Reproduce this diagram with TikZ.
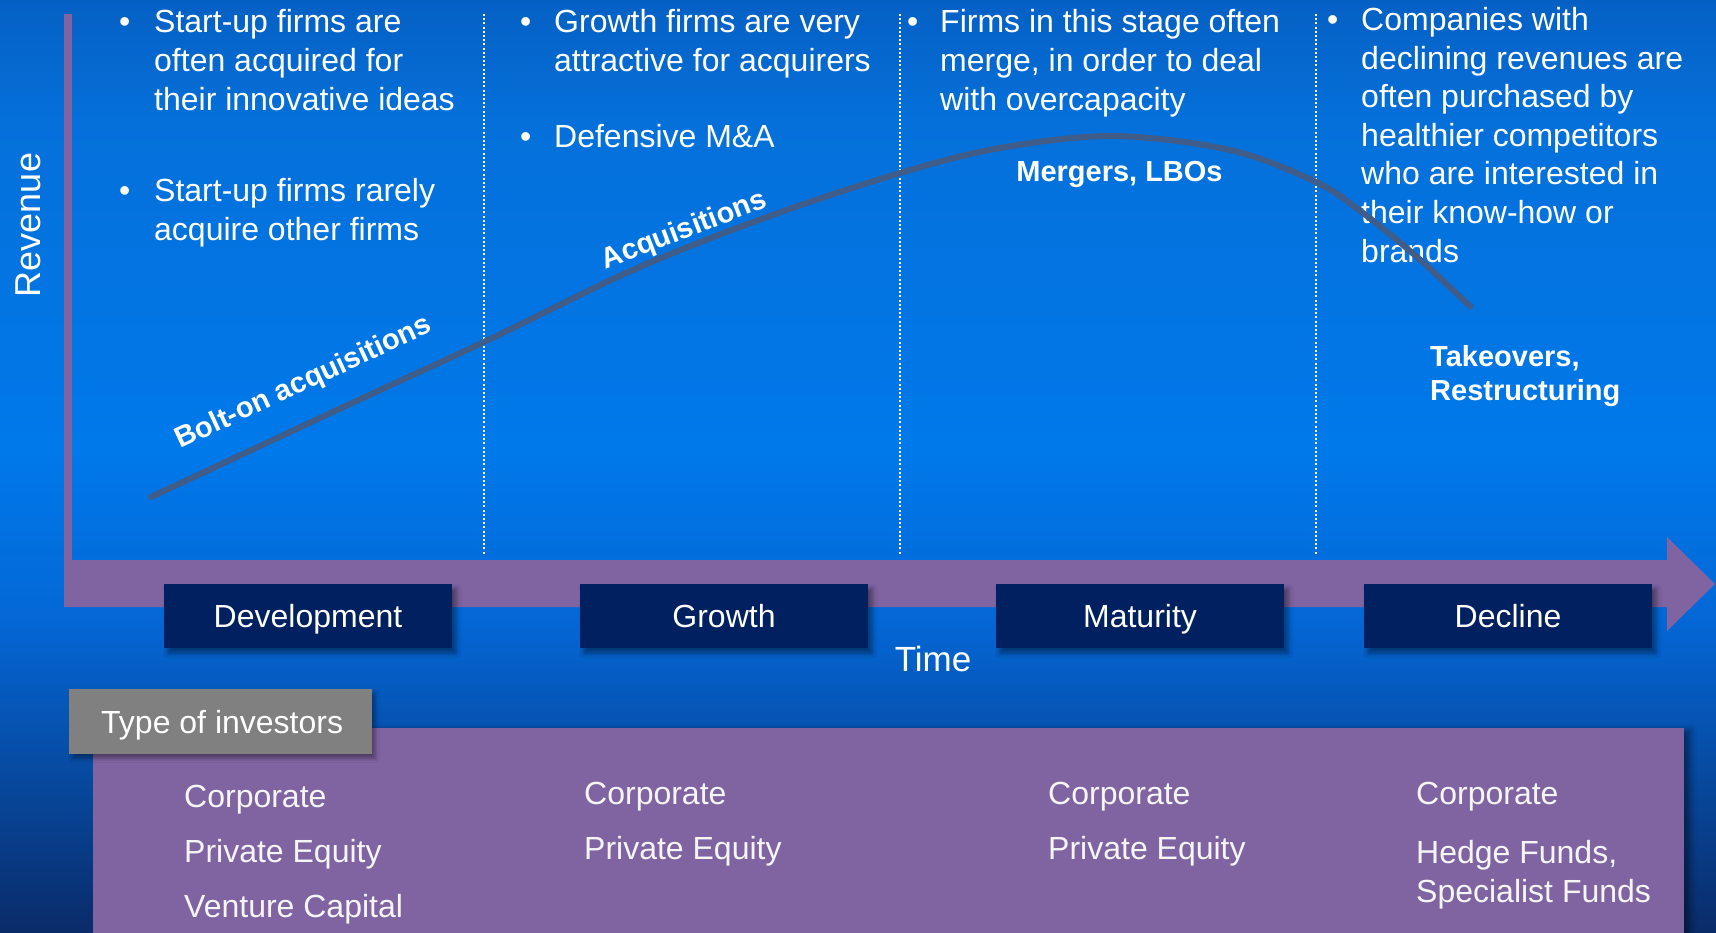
\documentclass[tikz,border=0pt]{standalone}
\usepackage{fontspec}
\setmainfont{Liberation Sans}
\usetikzlibrary{shadows.blur}

\definecolor{bgtop}{HTML}{0560C4}
\definecolor{bgupper}{HTML}{0570DA}
\definecolor{bgbright}{HTML}{0079EA}
\definecolor{bglow}{HTML}{0467D6}
\definecolor{bgbottom}{HTML}{0A2B68}
\definecolor{axispurple}{HTML}{8064A2}
\definecolor{stagenavy}{HTML}{002060}
\definecolor{curveblue}{HTML}{405C88}
\definecolor{titlegray}{HTML}{808080}

% a block of lines whose baseline is the baseline of its first line
\newcommand\para[2][38.6pt]{\vtop{\baselineskip=#1\lineskiplimit=-50pt #2}}

\begin{document}
\begin{tikzpicture}[x=1pt,y=-1pt,
  body/.style={font=\fontsize{32}{38.6}\selectfont, text=white, inner sep=0pt, anchor=base west},
  curvelbl/.style={font=\bfseries\fontsize{29}{34}\selectfont, text=white, inner sep=0pt, anchor=base},
  stagebox/.style={fill=stagenavy, minimum width=288pt, minimum height=64pt, inner sep=0pt,
    text=white, font=\fontsize{32}{38}\selectfont, text height=23pt, text depth=0pt,
    blur shadow={shadow xshift=4pt, shadow yshift=-5pt, shadow blur radius=5pt, shadow opacity=45}},
  divider/.style={white, line width=2.2pt, dash pattern=on 2pt off 2.2pt},
  invtxt/.style={font=\fontsize{32}{38}\selectfont, text=white!96!black, inner sep=0pt, anchor=base west},
]
\useasboundingbox (0,0) rectangle (1716,933);

% background gradient
\shade[top color=bgtop, bottom color=bgupper] (0,0) rectangle (1716,121);
\shade[top color=bgupper, bottom color=bgbright] (0,120) rectangle (1716,451);
\shade[top color=bgbright, bottom color=bglow] (0,450) rectangle (1716,621);
\shade[top color=bglow, bottom color=bgbottom] (0,620) rectangle (1716,933);

% axes
\fill[axispurple] (64,14) rectangle (72,607);
\fill[axispurple] (68,560) -- (1667,560) -- (1667,537) -- (1715,584) -- (1667,631)
  -- (1667,607) -- (68,607) -- cycle;

% stage dividers
\draw[divider] (484,14) -- (484,554);
\draw[divider] (900,14) -- (900,554);
\draw[divider] (1316,14) -- (1316,554);

% development
\node[body] (b1a) at (119,33) {•};
\node[body] (t1a) at (154,33) {\para{\hbox{Start-up firms are}\hbox{often acquired for}\hbox{their innovative ideas}}};
\node[body] (b1b) at (119,202) {•};
\node[body] (t1b) at (154,202) {\para{\hbox{Start-up firms rarely}\hbox{acquire other firms}}};
% growth
\node[body] (b2a) at (520,33) {•};
\node[body] (t2a) at (554,33) {\para{\hbox{Growth firms are very}\hbox{attractive for acquirers}}};
\node[body] (b2b) at (520,148) {•};
\node[body] (t2b) at (554,148) {Defensive M\&A};
% maturity
\node[body] (b3a) at (907,33) {•};
\node[body] (t3a) at (940,33) {\para{\hbox{Firms in this stage often}\hbox{merge, in order to deal}\hbox{with overcapacity}}};
% decline
\node[body] (b4a) at (1327,30.5) {•};
\node[body] (t4a) at (1361,30.5) {\para{\hbox{Companies with}\hbox{declining revenues are}\hbox{often purchased by}\hbox{healthier competitors}\hbox{who are interested in}\hbox{their know-how or}\hbox{brands}}};

% revenue curve
\draw[curveblue, line width=6pt] plot[smooth, tension=0.55] coordinates {
  (149,498) (350,404) (484,342) (633,270) (767,217) (900,173) (1000,148)
  (1113,136) (1230,150) (1316,182) (1363,213) (1417,257) (1472,308)};

% deal types along the curve
\node[curvelbl, rotate=25] (boltlbl) at (307,390) {Bolt-on acquisitions};
\node[curvelbl, rotate=21] (acqlbl) at (687,238) {Acquisitions};
\node[curvelbl] (merglbl) at (1119.5,182) {Mergers, LBOs};
\node[curvelbl, anchor=base west] (takelbl) at (1430,366) {\para[34pt]{\hbox{Takeovers,}\hbox{Restructuring}}};

% stages
\node[stagebox] (dev) at (308,616) {Development};
\node[stagebox] (grow) at (724,616) {Growth};
\node[stagebox] (mat) at (1140,616) {Maturity};
\node[stagebox] (dec) at (1508,616) {Decline};

% axis titles
\node[font=\fontsize{35}{40}\selectfont, text=white, inner sep=0pt, anchor=base] (time) at (933,671) {Time};
\node[font=\fontsize{36}{40}\selectfont, text=white, inner sep=0pt, anchor=base, rotate=90] (rev) at (40,225) {Revenue};

% investors panel
\node[fill=axispurple, minimum width=1591pt, minimum height=240pt, inner sep=0pt, anchor=north west,
  blur shadow={shadow xshift=6pt, shadow yshift=-2pt, shadow blur radius=6pt, shadow opacity=45}] (panel) at (93,728) {};
\node[fill=titlegray, minimum width=303pt, minimum height=65pt, inner sep=0pt, anchor=north west,
  blur shadow={shadow xshift=3pt, shadow yshift=-4pt, shadow blur radius=4pt, shadow opacity=40}] (invbox) at (69,689) {};
\node[invtxt, text=white] (invtitle) at (101,733) {Type of investors};

\node[invtxt] (i1) at (184,807) {\para[55pt]{\hbox{Corporate}\hbox{Private Equity}\hbox{Venture Capital}}};
\node[invtxt] (i2) at (584,804) {\para[55pt]{\hbox{Corporate}\hbox{Private Equity}}};
\node[invtxt] (i3) at (1048,804) {\para[55pt]{\hbox{Corporate}\hbox{Private Equity}}};
\node[invtxt] (i4a) at (1416,804) {Corporate};
\node[invtxt] (i4b) at (1416,863) {\para[39pt]{\hbox{Hedge Funds,}\hbox{Specialist Funds}}};
\end{tikzpicture}
\end{document}
